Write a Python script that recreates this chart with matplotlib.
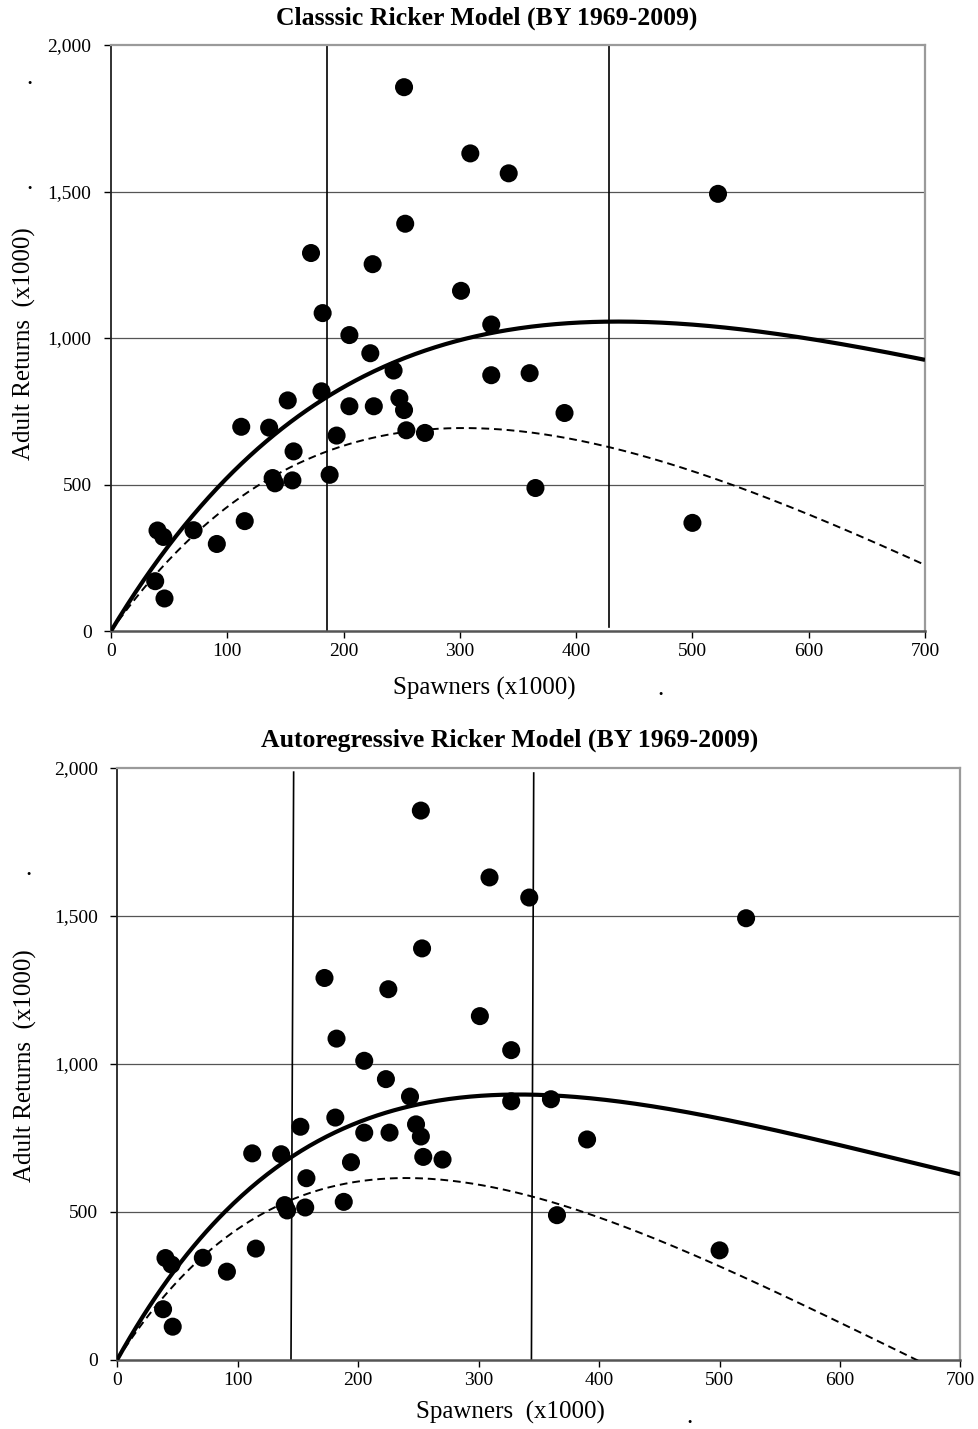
import numpy as np
import matplotlib
matplotlib.use("Agg")
import matplotlib.pyplot as plt

# ---------------- data ----------------
spawners = [252, 309, 342, 253, 172, 225, 301, 182, 327, 205,
            223, 243, 327, 360, 181, 152, 248, 205, 226, 252,
            112, 136, 254, 270, 194, 157, 139, 141, 156, 188,
            365, 115, 40, 45, 71, 91, 38, 46, 500, 522, 390]
returns = [1856, 1630, 1562, 1390, 1290, 1252, 1161, 1085, 1046, 1010,
           948, 889, 873, 880, 818, 787, 795, 767, 767, 754,
           697, 694, 685, 676, 667, 613, 522, 504, 514, 533,
           488, 375, 343, 321, 344, 297, 170, 111, 369, 1492, 744]

titles = ["Classsic Ricker Model (BY 1969-2009)",
          "Autoregressive Ricker Model (BY 1969-2009)"]
xlabels = ["Spawners (x1000)", "Spawners  (x1000)"]
ylabel = "Adult Returns  (x1000)"

# Ricker fits  R = alpha * S * exp(-S / smax)
ricker_alpha = [6.584, 7.307]
ricker_smax = [436.0, 333.3]

# vertical reference lines (x at top, x at bottom, y top, y bottom)
vlines_top = [(185.5, 185.5, 2000, 0), (428.0, 428.0, 2000, 12)]
vlines_bot = [(146.4, 144.2, 1986, 0), (345.7, 343.8, 1983, 0)]

xticks = [0, 100, 200, 300, 400, 500, 600, 700]
yticks = [0, 500, 1000, 1500, 2000]
ytick_labels = ["0", "500", "1,000", "1,500", "2,000"]

# ---------------- figure ----------------
W, H = 979, 1429
fig = plt.figure(figsize=(W / 100, H / 100), dpi=100)
serif = ["Liberation Serif", "DejaVu Serif"]
plt.rcParams["font.family"] = serif

rects = [[111 / W, 1 - 631 / H, 814 / W, 586 / H],
         [117.3 / W, 1 - 1359.5 / H, 843.2 / W, 591.5 / H]]
vlines_all = [vlines_top, vlines_bot]

S_curve = np.linspace(0, 700, 400)

for i in range(2):
    ax = fig.add_axes(rects[i])
    ax.set_xlim(0, 700)
    ax.set_ylim(0, 2000)
    ax.set_xticks(xticks)
    ax.set_xticklabels([str(t) for t in xticks])
    ax.set_yticks(yticks)
    ax.set_yticklabels(ytick_labels)
    ax.tick_params(axis="x", direction="out", length=5, width=1.0,
                   pad=4, labelsize=14, colors="black")
    ax.tick_params(axis="y", direction="out", length=5, width=1.0,
                   pad=9, labelsize=14, colors="black")
    for lab in ax.get_xticklabels() + ax.get_yticklabels():
        lab.set_family(serif)

    for g in [500, 1000, 1500]:
        ax.axhline(g, color="#555555", lw=0.9, zorder=1)

    ax.spines["top"].set_color("#9a9a9a")
    ax.spines["top"].set_linewidth(1.6)
    ax.spines["right"].set_color("#9a9a9a")
    ax.spines["right"].set_linewidth(1.6)
    ax.spines["bottom"].set_color("#555555")
    ax.spines["bottom"].set_linewidth(1.8)
    ax.spines["left"].set_color("#222222")
    ax.spines["left"].set_linewidth(1.3)

    for (xt, xb, yt, yb) in vlines_all[i]:
        ax.plot([xt, xb], [yt, yb], color="black", lw=1.2, zorder=2,
                clip_on=True)

    a = ricker_alpha[i]
    smax = ricker_smax[i]
    R_curve = a * S_curve * np.exp(-S_curve / smax)
    ax.plot(S_curve, R_curve, color="black", lw=3.0, zorder=3,
            solid_capstyle="butt")
    ax.plot(S_curve, R_curve - S_curve, color="black", lw=1.4,
            dashes=(4, 2.5), zorder=3)

    ax.scatter(spawners, returns, s=13 ** 2, color="black",
               edgecolors="none", zorder=4, clip_on=False)

# ---------------- texts ----------------
fig.text(487 / W, 1 - 18 / H, titles[0], ha="center", va="center",
         fontsize=18.5, fontweight="bold", family=serif)
fig.text(510 / W, 1 - 740 / H, titles[1], ha="center", va="center",
         fontsize=18.5, fontweight="bold", family=serif)

fig.text(484 / W, 1 - 688 / H, xlabels[0], ha="center", va="center",
         fontsize=18, family=serif)
fig.text(510 / W, 1 - 1412 / H, xlabels[1], ha="center", va="center",
         fontsize=18, family=serif)

fig.text(24 / W, 1 - 344 / H, ylabel, ha="center", va="center",
         rotation=90, fontsize=18, family=serif)
fig.text(25 / W, 1 - 1066 / H, ylabel, ha="center", va="center",
         rotation=90, fontsize=18, family=serif)

# stray dots present in the original
for (dx, dy) in [(30, 84), (30, 189), (29, 875), (661, 695), (690, 1423)]:
    fig.text(dx / W, 1 - dy / H, ".", ha="center", va="baseline",
             fontsize=18, family=serif)

fig.savefig("out.png", dpi=100)
